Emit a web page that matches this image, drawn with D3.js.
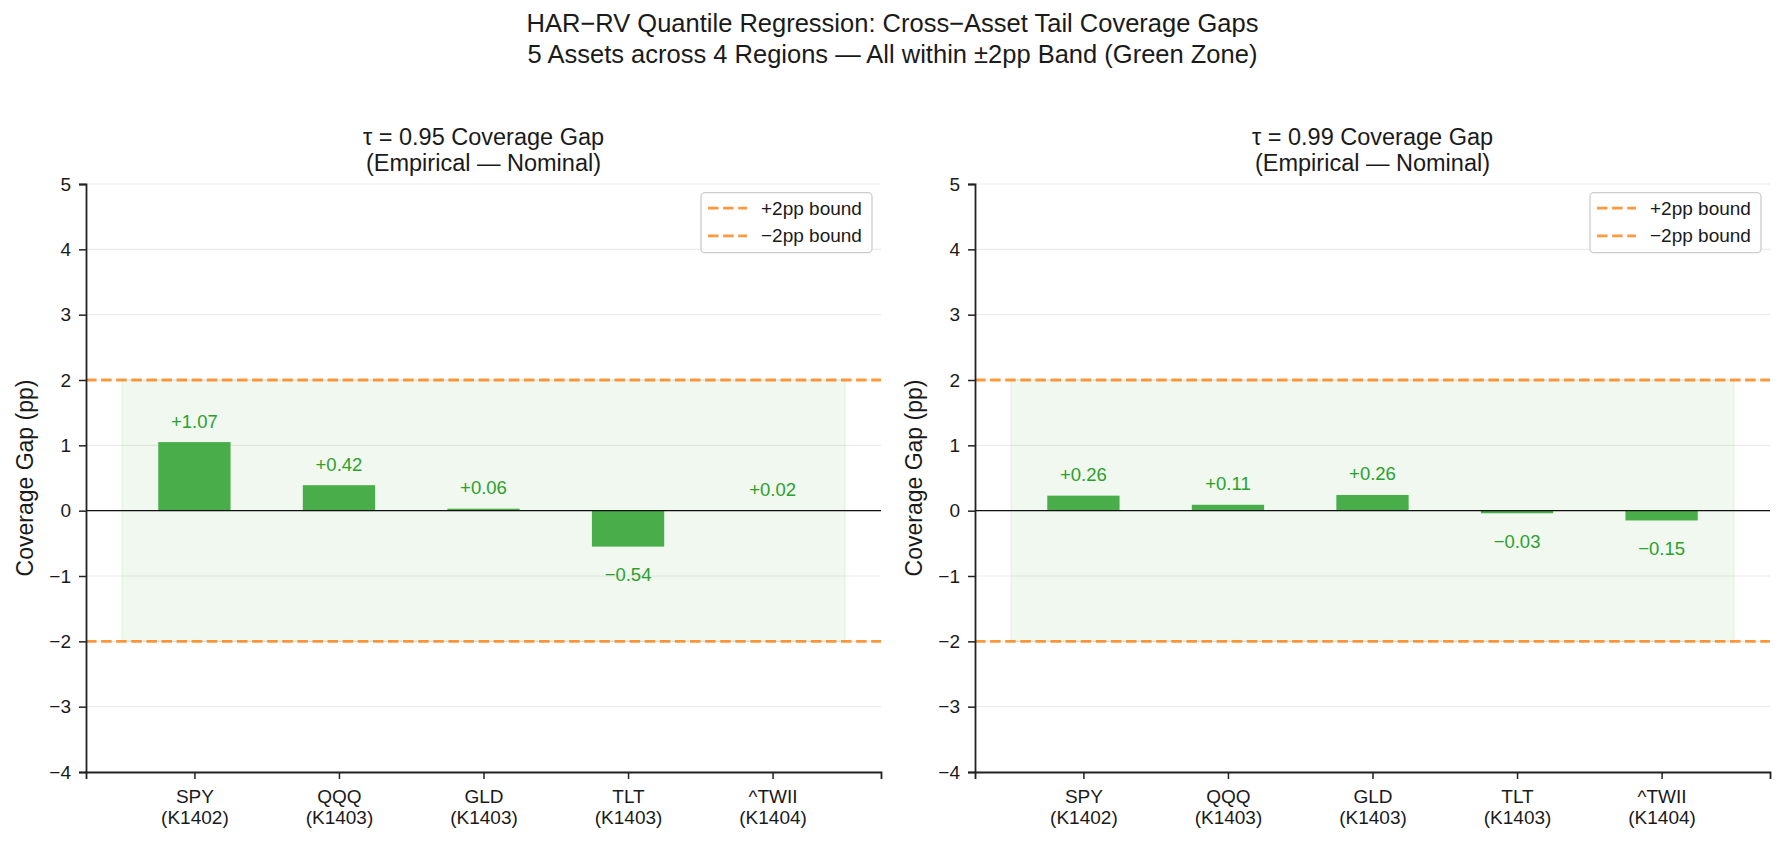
<!DOCTYPE html>
<html>
<head>
<meta charset="utf-8">
<script src="https://cdn.jsdelivr.net/npm/d3@7"></script>
<style>
  body { margin: 0; background: #fff; }
  svg text { font-family: "Liberation Sans", Arial, sans-serif; fill: #1a1a1a; }
</style>
</head>
<body>
<svg id="chart" width="1785" height="845"></svg>
<script>
/* ---------- Data ---------- */
const assets = ["SPY", "QQQ", "GLD", "TLT", "^TWII"];
const regions = ["K1402", "K1403", "K1403", "K1403", "K1404"];

// bar heights as drawn, and the labels printed over them
const gap95 = [1.05, 0.39, 0.03, -0.55, 0.005];
const gap95Labels = ["+1.07", "+0.42", "+0.06", "\u22120.54", "+0.02"];
const gap99 = [0.23, 0.09, 0.24, -0.04, -0.15];
const gap99Labels = ["+0.26", "+0.11", "+0.26", "\u22120.03", "\u22120.15"];

const panelTitles = [
    ["\u03c4 = 0.95 Coverage Gap", "(Empirical \u2014 Nominal)"],
    ["\u03c4 = 0.99 Coverage Gap", "(Empirical \u2014 Nominal)"]
];
const yTicks = [-4, -3, -2, -1, 0, 1, 2, 3, 4, 5];
const bound = 2;
const legendLabels = ["+2pp bound", "\u22122pp bound"];

/* ---------- Layout ---------- */
const svg = d3.select("#chart");
const W = 795, plotTop = 184, plotBottom = 772;
const H = plotBottom - plotTop;
const panelsX = [86, 975];
const green = "#2ca02c", orange = "#ff7f0e";
const fmtTick = d => d < 0 ? "\u2212" + Math.abs(d) : String(d);

svg.append("text").attr("x", 892.5).attr("y", 23).attr("text-anchor", "middle")
    .attr("dominant-baseline", "central").style("font-size", "25.5px")
    .text("HAR\u2212RV Quantile Regression: Cross\u2212Asset Tail Coverage Gaps");
svg.append("text").attr("x", 892.5).attr("y", 54).attr("text-anchor", "middle")
    .attr("dominant-baseline", "central").style("font-size", "25.5px")
    .text("5 Assets across 4 Regions \u2014 All within \u00b12pp Band (Green Zone)");

function drawPanel(x0, values, labels, titleLines) {
    const x = d3.scaleLinear().domain([-0.75, assets.length - 0.25]).range([0, W]);
    const y = d3.scaleLinear().domain([-4, 5]).range([H, 0]);
    const g = svg.append("g").attr("transform", `translate(${x0},${plotTop})`);

    // grid
    g.append("g").selectAll("line").data(yTicks).join("line")
        .attr("x1", 0).attr("x2", W).attr("y1", d => y(d)).attr("y2", d => y(d))
        .attr("stroke", "#ebebeb").attr("stroke-width", 1.2);

    // green zone
    g.append("rect")
        .attr("x", x(-0.5)).attr("width", x(assets.length - 0.5) - x(-0.5))
        .attr("y", y(bound)).attr("height", y(-bound) - y(bound))
        .attr("fill", green).attr("fill-opacity", 0.07)
        .attr("stroke", green).attr("stroke-opacity", 0.07).attr("stroke-width", 1.5);

    // bars
    const bw = x(0.5) - x(0);
    g.append("g").selectAll("rect").data(values).join("rect")
        .attr("x", (d, i) => x(i) - bw / 2).attr("width", bw)
        .attr("y", d => y(Math.max(0, d))).attr("height", d => Math.abs(y(d) - y(0)))
        .attr("fill", green).attr("fill-opacity", 0.85);

    // zero line
    g.append("line").attr("x1", 0).attr("x2", W).attr("y1", y(0)).attr("y2", y(0))
        .attr("stroke", "#111").attr("stroke-width", 1.4);

    // bounds
    g.append("g").selectAll("line").data([bound, -bound]).join("line")
        .attr("x1", 0).attr("x2", W).attr("y1", d => y(d)).attr("y2", d => y(d))
        .attr("stroke", orange).attr("stroke-opacity", 0.8)
        .attr("stroke-width", 2.8).attr("stroke-dasharray", "10.5,4.6");

    // value labels
    g.append("g").selectAll("text").data(values).join("text")
        .attr("x", (d, i) => x(i))
        .attr("y", d => d >= 0 ? y(d) - 21 : y(d) + 28)
        .attr("text-anchor", "middle").attr("dominant-baseline", "central")
        .style("font-size", "18.5px").style("fill", green)
        .text((d, i) => labels[i]);

    // axes
    const yAxis = g.append("g").call(d3.axisLeft(y).tickValues(yTicks).tickFormat(fmtTick).tickSizeOuter(0).tickSize(7).tickPadding(8));
    const xAxis = g.append("g").attr("transform", `translate(0,${H})`)
        .call(d3.axisBottom(x).tickValues(d3.range(assets.length)).tickFormat("").tickSizeOuter(0).tickSize(7));
    [yAxis, xAxis].forEach(a => {
        a.select(".domain").attr("stroke", "#222").attr("stroke-width", 1.8);
        a.selectAll(".tick line").attr("stroke", "#222").attr("stroke-width", 1.5);
    });
    yAxis.selectAll(".tick text").style("font-size", "19px").attr("fill", "#1a1a1a");
    xAxis.selectAll(".tick").each(function (d) {
        const t = d3.select(this).append("text").attr("text-anchor", "middle")
            .style("font-size", "19px").attr("fill", "#1a1a1a");
        t.append("tspan").attr("x", 0).attr("y", 24.5).attr("dominant-baseline", "central").text(assets[d]);
        t.append("tspan").attr("x", 0).attr("y", 45.5).attr("dominant-baseline", "central").text(`(${regions[d]})`);
    });

    // y label
    g.append("text").attr("transform", `translate(${-61},${H / 2}) rotate(-90)`)
        .attr("text-anchor", "middle").attr("dominant-baseline", "central")
        .style("font-size", "23px").text("Coverage Gap (pp)");

    // panel title
    titleLines.forEach((line, i) => {
        g.append("text").attr("x", W / 2).attr("y", -47 + i * 26)
            .attr("text-anchor", "middle").attr("dominant-baseline", "central")
            .style("font-size", "23.5px").text(line);
    });

    // legend
    const lg = g.append("g").attr("transform", `translate(${W - 180},${8.7})`);
    lg.append("rect").attr("width", 171).attr("height", 60).attr("rx", 4)
        .attr("fill", "#fff").attr("fill-opacity", 0.8)
        .attr("stroke", "#cccccc").attr("stroke-width", 1.3);
    legendLabels.forEach((lab, i) => {
        const yy = 15.5 + i * 27.7;
        lg.append("line").attr("x1", 7).attr("x2", 46).attr("y1", yy).attr("y2", yy)
            .attr("stroke", orange).attr("stroke-opacity", 0.8)
            .attr("stroke-width", 2.8).attr("stroke-dasharray", "10.5,4.6");
        lg.append("text").attr("x", 60).attr("y", yy).attr("dominant-baseline", "central")
            .style("font-size", "19px").text(lab);
    });
}

drawPanel(panelsX[0], gap95, gap95Labels, panelTitles[0]);
drawPanel(panelsX[1], gap99, gap99Labels, panelTitles[1]);
</script>
</body>
</html>
